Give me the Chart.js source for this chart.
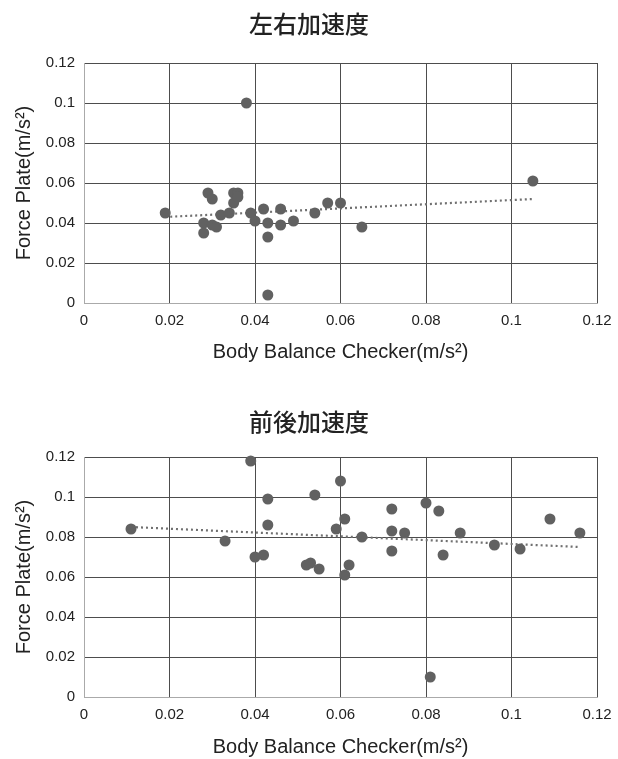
<!DOCTYPE html>
<html>
<head>
<meta charset="utf-8">
<script src="https://cdn.jsdelivr.net/npm/chart.js@4/dist/chart.umd.min.js"></script>
<style>
  html, body { margin: 0; padding: 0; background: #fff; }
  .box { position: relative; width: 618px; }
</style>
</head>
<body>
<div class="box" style="height:380px"><canvas id="lrChart" width="618" height="380"></canvas></div>
<div class="box" style="height:379px"><canvas id="fbChart" width="618" height="379"></canvas></div>
<script>
// tick labels shared by both plots
const xTicks = [0, 0.02, 0.04, 0.06, 0.08, 0.1, 0.12];
const yTicks = [0, 0.02, 0.04, 0.06, 0.08, 0.1, 0.12];

// 左右加速度
const lrX = [0.038, 0.019, 0.029, 0.030, 0.028, 0.028, 0.030, 0.031, 0.032, 0.034, 0.035, 0.035, 0.036, 0.036,
             0.039, 0.040, 0.042, 0.043, 0.043, 0.043, 0.046, 0.046, 0.049, 0.054, 0.057, 0.060, 0.065, 0.105];
const lrY = [0.100, 0.045, 0.055, 0.052, 0.040, 0.035, 0.039, 0.038, 0.044, 0.045, 0.050, 0.055, 0.055, 0.053,
             0.045, 0.041, 0.047, 0.040, 0.033, 0.004, 0.047, 0.039, 0.041, 0.045, 0.050, 0.050, 0.038, 0.061];
const lrTrendX = [0.019, 0.105];
const lrTrendY = [0.043, 0.052];

// 前後加速度
const fbX = [0.011, 0.039, 0.043, 0.054, 0.060, 0.043, 0.059, 0.033, 0.040, 0.042, 0.052, 0.053, 0.055,
             0.061, 0.062, 0.061, 0.065, 0.072, 0.072, 0.072, 0.075, 0.080, 0.083, 0.084, 0.081, 0.088,
             0.096, 0.102, 0.109, 0.116];
const fbY = [0.084, 0.118, 0.099, 0.101, 0.108, 0.086, 0.084, 0.078, 0.070, 0.071, 0.066, 0.067, 0.064,
             0.089, 0.066, 0.061, 0.080, 0.094, 0.083, 0.073, 0.082, 0.097, 0.093, 0.071, 0.010, 0.082,
             0.076, 0.074, 0.089, 0.082];
const fbTrendX = [0.011, 0.116];
const fbTrendY = [0.085, 0.075];

const tickFont = { family: "'Liberation Sans', Arial, sans-serif", size: 15 };
const labelFont = { family: "'Liberation Sans', Arial, sans-serif", size: 20, lineHeight: 1.2 };

function pairs(xs, ys) {
  return xs.map((x, i) => ({ x: x, y: ys[i] }));
}

function fmt(v) {
  return String(Number(v.toFixed(2)));
}

// tTop/tBottom: title padding, xBox: height of the x axis box, xPad: padding under the x title
function makeChart(id, title, xs, ys, tx, ty, tTop, tBottom, xBox, xPad) {
  return new Chart(document.getElementById(id), {
    type: 'scatter',
    data: {
      datasets: [
        {
          data: pairs(xs, ys),
          backgroundColor: '#616161',
          borderWidth: 0,
          pointRadius: 5.5,
          pointHoverRadius: 5.5,
          clip: false,
        },
        {
          data: pairs(tx, ty),
          showLine: true,
          borderColor: '#707070',
          borderWidth: 2.2,
          borderDash: [2, 3],
          pointRadius: 0,
          fill: false,
        },
      ],
    },
    options: {
      responsive: false,
      animation: false,
      events: [],
      // equal side padding keeps the title centred on the page
      layout: { padding: { left: 21, right: 21, top: 0, bottom: 0 } },
      plugins: {
        legend: { display: false },
        tooltip: { enabled: false },
        title: {
          display: true,
          text: title,
          color: '#222',
          font: { family: "'Noto Sans CJK JP', sans-serif", size: 24, weight: '500', lineHeight: 1.2 },
          padding: { top: tTop, bottom: tBottom },
        },
      },
      scales: {
        x: {
          type: 'linear',
          min: 0,
          max: 0.12,
          afterBuildTicks: (s) => { s.ticks = xTicks.map(v => ({ value: v })); },
          afterFit: (s) => { s.height = xBox; s.paddingLeft = 0; s.paddingRight = 0; },
          grid: { color: '#4d4d4d', lineWidth: 1, drawTicks: false },
          border: { color: '#aaa', width: 1 },
          ticks: { color: '#222', font: tickFont, padding: 9, maxRotation: 0, callback: (v) => fmt(v) },
          title: {
            display: true,
            text: 'Body Balance Checker(m/s²)',
            color: '#222',
            font: labelFont,
            padding: { top: 0, bottom: xPad },
          },
        },
        y: {
          type: 'linear',
          min: 0,
          max: 0.12,
          afterBuildTicks: (s) => { s.ticks = yTicks.map(v => ({ value: v })); },
          afterFit: (s) => { s.width = 63; },
          grid: { color: '#4d4d4d', lineWidth: 1, drawTicks: false },
          border: { color: '#aaa', width: 1 },
          ticks: { color: '#222', font: tickFont, padding: 9, callback: (v) => fmt(v) },
          title: {
            display: true,
            text: 'Force Plate(m/s²)',
            color: '#222',
            font: labelFont,
            padding: { top: -9, bottom: 0 },
          },
        },
      },
    },
  });
}

makeChart('lrChart', '左右加速度', lrX, lrY, lrTrendX, lrTrendY, 9.6, 24.6, 77, 16);
makeChart('fbChart', '前後加速度', fbX, fbY, fbTrendX, fbTrendY, 27.6, 20.6, 62, 0);
</script>
</body>
</html>
